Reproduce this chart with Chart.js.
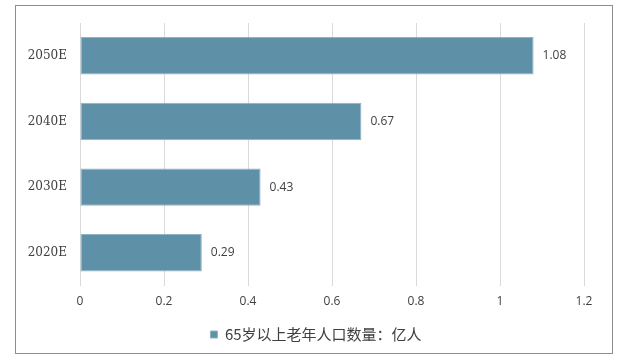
<!DOCTYPE html>
<html>
<head>
<meta charset="utf-8">
<script src="https://cdn.jsdelivr.net/npm/chart.js@4.4.1/dist/chart.umd.min.js"></script>
<style>
    body { margin: 0; background: #fff; }
    #wrap { position: relative; width: 625px; height: 361px; }
    #frame { position: absolute; left: 15px; top: 5px; width: 596px; height: 347px; border: 1px solid #8c8c8c; }
    canvas { position: absolute; left: 0; top: 0; }
</style>
</head>
<body>
<div id="wrap">
    <div id="frame"></div>
    <canvas id="barChart" width="625" height="361"></canvas>
</div>
<script>
// data, top to bottom as in the picture
const categories = ['2050E', '2040E', '2030E', '2020E'];
const values = [1.08, 0.67, 0.43, 0.29];
const xTicks = [0, 0.2, 0.4, 0.6, 0.8, 1, 1.2];
const seriesName = '65岁以上老年人口数量：亿人';

const barColor = '#5e90a7';

// value labels at the end of each bar
const valueLabels = {
    id: 'valueLabels',
    afterDatasetsDraw(chart) {
        const ctx = chart.ctx;
        const meta = chart.getDatasetMeta(0);
        ctx.save();
        ctx.font = '12px "Open Sans", sans-serif';
        ctx.fillStyle = '#404040';
        ctx.textAlign = 'left';
        ctx.textBaseline = 'middle';
        meta.data.forEach((bar, i) => {
            ctx.fillText(values[i].toFixed(2), bar.x + 9, bar.y);
        });
        ctx.restore();
    }
};

// legend sits a bit right of the canvas centre in the original
const legendShift = {
    id: 'legendShift',
    afterLayout(chart) {
        chart.legend.left += 24;
        chart.legend.right += 24;
    }
};

new Chart(document.getElementById('barChart').getContext('2d'), {
    type: 'bar',
    data: {
        labels: categories,
        datasets: [{
            label: seriesName,
            data: values,
            backgroundColor: barColor,
            borderColor: '#8fb4c6',
            borderWidth: 1,
            borderSkipped: false,
            categoryPercentage: 1,
            barPercentage: 0.57
        }]
    },
    options: {
        indexAxis: 'y',
        responsive: false,
        animation: false,
        layout: {
            padding: { left: 0, right: 41, top: 23, bottom: 9 }
        },
        scales: {
            x: {
                min: 0,
                max: 1.2,
                afterBuildTicks: (scale) => { scale.ticks = xTicks.map(v => ({ value: v })); },
                grid: { color: '#d9d9d9', drawTicks: false },
                border: { display: false },
                ticks: {
                    padding: 9,
                    color: '#404040',
                    font: { family: '"Open Sans", sans-serif', size: 12 },
                    callback: (v) => String(v)
                }
            },
            y: {
                afterFit: (scale) => { scale.width = 80; },
                grid: { display: false, drawTicks: false },
                border: { display: false },
                ticks: {
                    padding: 13,
                    color: '#404040',
                    font: { family: '"DejaVu Serif", serif', size: 12 }
                }
            }
        },
        plugins: {
            legend: {
                position: 'bottom',
                labels: {
                    usePointStyle: true,
                    pointStyle: 'rect',
                    boxWidth: 7,
                    boxHeight: 7,
                    padding: 9,
                    color: '#404040',
                    font: { family: '"Noto Sans CJK SC", sans-serif', size: 15 }
                }
            },
            tooltip: { enabled: false }
        }
    },
    plugins: [valueLabels, legendShift]
});
</script>
</body>
</html>
